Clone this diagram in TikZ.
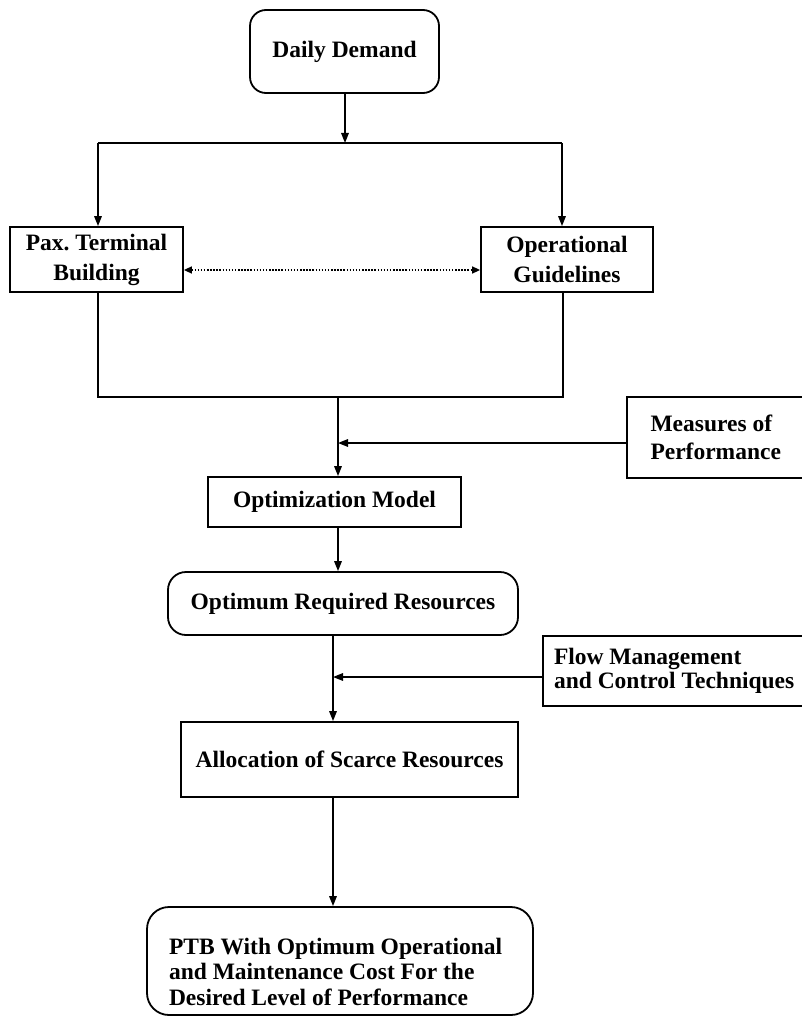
\documentclass[tikz,border=0pt]{standalone}
\usepackage{fontspec}
\setmainfont{Liberation Serif}
\usetikzlibrary{arrows.meta}
\frenchspacing
\tikzset{
  box/.style={draw, line width=1.8pt, inner sep=0pt, font=\bfseries\fontsize{23.5}{28}\selectfont},
  rbox/.style={box, rounded corners=16pt},
  conn/.style={line width=1.6pt},
  arr/.style={conn, -{Triangle[length=10pt,width=7.5pt]}},
  dotarr/.style={line width=1.6pt, dash pattern=on 1.5pt off 1.6pt, {Triangle[length=8pt,width=7pt]}-{Triangle[length=8pt,width=7pt]}}
}
\begin{document}
\begin{tikzpicture}[x=1pt,y=-1pt]
\useasboundingbox (0,0) rectangle (802,1019);
\clip (0,0) rectangle (802,1019);

% nodes
\node[rbox, minimum width=189pt, minimum height=83pt] (dd) at (344.5,51.5) {Daily Demand};
\node[box, minimum width=173pt, minimum height=65pt, align=center, font=\bfseries\fontsize{23.5}{30}\selectfont] (pax) at (96.5,259.5) {Pax. Terminal\\Building};
\node[box, minimum width=172pt, minimum height=65pt, align=center, font=\bfseries\fontsize{23.5}{30}\selectfont] (op) at (567,259.5) {Operational\\Guidelines};
\node[box, minimum width=181pt, minimum height=81pt, text width=134pt, align=flush left] (meas) at (717.5,437.5) {Measures of\\Performance};
\node[box, minimum width=253pt, minimum height=50pt] (opt) at (334.5,502) {Optimization Model};
\node[rbox, rounded corners=18pt, minimum width=350pt, minimum height=63pt] (ores) at (343,603.5) {Optimum Required Resources};
\node[box, minimum width=265pt, minimum height=70pt, text width=243pt, align=flush left, font=\bfseries\fontsize{23.5}{23.5}\selectfont] (flow) at (675.5,671) {Flow Management\\and Control Techniques};
\node[box, minimum width=337pt, minimum height=75pt] (alloc) at (349.5,759.5) {Allocation of Scarce Resources};
\node[rbox, rounded corners=22pt, minimum width=386pt, minimum height=108pt, text width=342pt, align=flush left, font=\bfseries\fontsize{23.5}{25.5}\selectfont] (ptb) at (340,961) {\rule{0pt}{38pt}PTB With Optimum Operational\\and Maintenance Cost For the\\Desired Level of Performance};

% coordinates
\coordinate (tl) at (98,143);
\coordinate (tr) at (562,143);
\coordinate (bl) at (98,397);
\coordinate (br) at (563,397);
\coordinate (m) at (338,397);
\coordinate (l) at (333,635);

% connectors
\draw[arr] (dd.south -| 345,0) -- (345,143);
\draw[conn] (tl) -- (tr);
\draw[arr] (tl) -- (tl |- pax.north);
\draw[arr] (tr) -- (tr |- op.north);
\draw[dotarr] ([yshift=-10.5pt]pax.east) -- ([yshift=-10.5pt]op.west);
\draw[conn] (bl |- pax.south) -- (bl) -- (br) -- (br |- op.south);
\draw[arr] (m) -- (m |- opt.north);
\draw[arr] ([yshift=-5.5pt]meas.west) -- ([yshift=-5.5pt]meas.west -| m);
\draw[arr] (m |- opt.south) -- (m |- ores.north);
\draw[arr] (l |- ores.south) -- (l |- alloc.north);
\draw[arr] ([yshift=-6pt]flow.west) -- ([yshift=-6pt]flow.west -| l);
\draw[arr] (l |- alloc.south) -- (l |- ptb.north);
\end{tikzpicture}
\end{document}
